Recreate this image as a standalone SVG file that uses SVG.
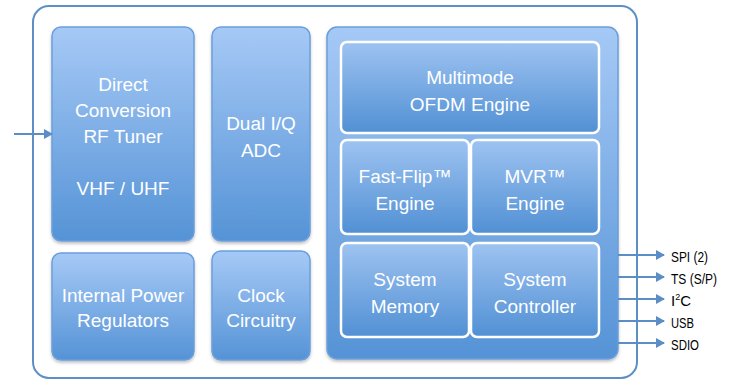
<svg xmlns="http://www.w3.org/2000/svg" width="729" height="381" viewBox="0 0 729 381">
<defs>
<linearGradient id="g" x1="0" y1="0" x2="0" y2="1">
<stop offset="0" stop-color="#a6c9f6"/>
<stop offset="1" stop-color="#5593d6"/>
</linearGradient>
<linearGradient id="gi" x1="0" y1="0" x2="0" y2="1">
<stop offset="0" stop-color="#9ec3f1"/>
<stop offset="1" stop-color="#5190d4"/>
</linearGradient>
<filter id="sh" x="-10%" y="-10%" width="130%" height="130%">
<feDropShadow dx="0" dy="2" stdDeviation="1.5" flood-color="#000" flood-opacity="0.25"/>
</filter>
<marker id="ah" markerWidth="10" markerHeight="10" refX="8" refY="5" orient="auto" markerUnits="userSpaceOnUse">
<path d="M0,0 L9,5 L0,10 Z" fill="#5b8ec6"/>
</marker>
</defs>
<style>
.blk{fill:url(#g);stroke:#6b9fdc;stroke-width:1.5;filter:url(#sh)}
.inn{fill:url(#gi);stroke:#ffffff;stroke-width:2.5}
.t{font-family:"Liberation Sans",Arial,sans-serif;font-size:19px;fill:#ffffff;text-anchor:middle}
.l{font-family:"Liberation Sans",Arial,sans-serif;font-size:15px;fill:#000000}
.c{stroke:#5b8ec6;stroke-width:2;fill:none;marker-end:url(#ah)}
</style>
<rect width="729" height="381" fill="#ffffff"/>
<g id="chip">
<rect x="33" y="6" width="604" height="372" rx="16" fill="#ffffff" stroke="#5d8fc6" stroke-width="2"/>
</g>
<g id="tuner">
<rect class="blk" x="52" y="27" width="142" height="214" rx="9"/>
<text class="t" x="123" y="91">Direct</text>
<text class="t" x="123" y="117">Conversion</text>
<text class="t" x="123" y="143">RF Tuner</text>
<text class="t" x="123" y="195">VHF / UHF</text>
</g>
<g id="power">
<rect class="blk" x="52" y="253" width="142" height="107" rx="9"/>
<text class="t" x="123" y="302">Internal Power</text>
<text class="t" x="123" y="327">Regulators</text>
</g>
<g id="adc">
<rect class="blk" x="212" y="27" width="98" height="214" rx="9"/>
<text class="t" x="261" y="130">Dual I/Q</text>
<text class="t" x="261" y="157">ADC</text>
</g>
<g id="clock">
<rect class="blk" x="212" y="251" width="98" height="109" rx="9"/>
<text class="t" x="261" y="302">Clock</text>
<text class="t" x="261" y="327">Circuitry</text>
</g>
<g id="soc">
<rect class="blk" x="327" y="27" width="291" height="332" rx="10"/>
</g>
<g id="ofdm">
<rect class="inn" x="341" y="42" width="258" height="91" rx="6"/>
<text class="t" x="470" y="84">Multimode</text>
<text class="t" x="470" y="111">OFDM Engine</text>
</g>
<g id="fastflip">
<rect class="inn" x="341" y="140" width="128" height="94" rx="6"/>
<text class="t" x="405" y="183">Fast-Flip™</text>
<text class="t" x="405" y="210">Engine</text>
</g>
<g id="mvr">
<rect class="inn" x="471" y="140" width="128" height="94" rx="6"/>
<text class="t" x="535" y="183">MVR™</text>
<text class="t" x="535" y="210">Engine</text>
</g>
<g id="memory">
<rect class="inn" x="341" y="243" width="128" height="94" rx="6"/>
<text class="t" x="405" y="286">System</text>
<text class="t" x="405" y="313">Memory</text>
</g>
<g id="controller">
<rect class="inn" x="471" y="243" width="128" height="94" rx="6"/>
<text class="t" x="535" y="286">System</text>
<text class="t" x="535" y="313">Controller</text>
</g>
<g id="connectors">
<line class="c" x1="14" y1="134" x2="52" y2="134"/>
<line class="c" x1="618" y1="255" x2="664" y2="255"/>
<line class="c" x1="618" y1="277" x2="664" y2="277"/>
<line class="c" x1="618" y1="299" x2="664" y2="299"/>
<line class="c" x1="618" y1="321" x2="664" y2="321"/>
<line class="c" x1="618" y1="343" x2="664" y2="343"/>
</g>
<g id="labels">
<text class="l" x="671" y="262" textLength="37" lengthAdjust="spacingAndGlyphs">SPI (2)</text>
<text class="l" x="671" y="284" textLength="46" lengthAdjust="spacingAndGlyphs">TS (S/P)</text>
<text class="l" x="671" y="306">I<tspan font-size="9" dy="-6">2</tspan><tspan dy="6">C</tspan></text>
<text class="l" x="671" y="328" textLength="23" lengthAdjust="spacingAndGlyphs">USB</text>
<text class="l" x="671" y="350" textLength="28" lengthAdjust="spacingAndGlyphs">SDIO</text>
</g>
</svg>
